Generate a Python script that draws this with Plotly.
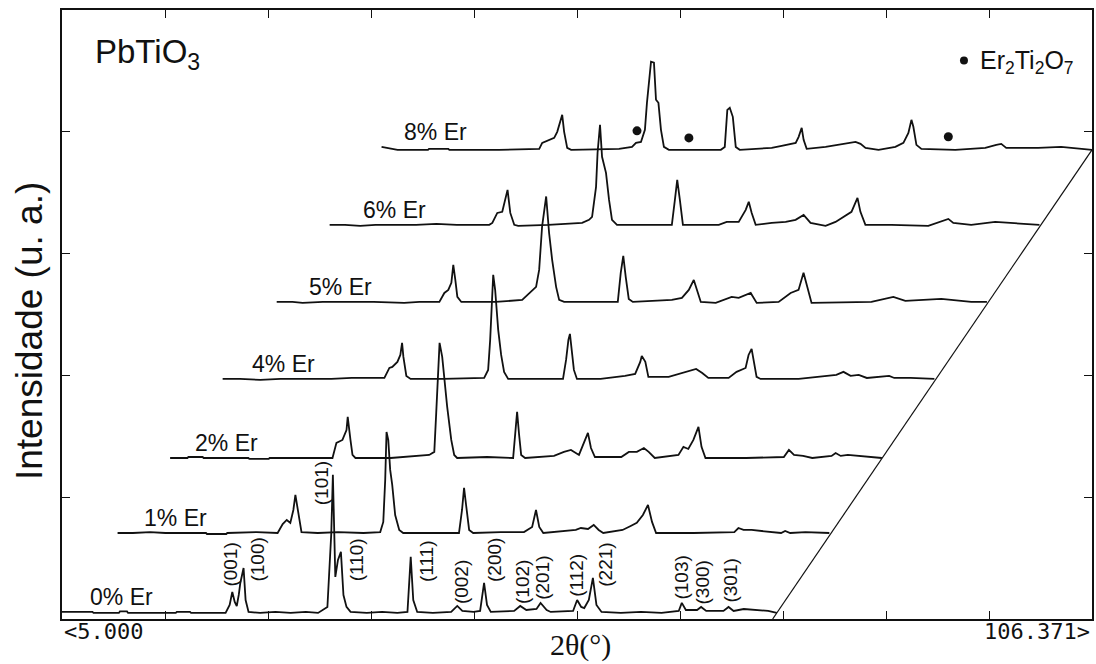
import plotly.graph_objects as go

# ---- diffraction data: 2theta (deg) and intensity (counts) per Er content ----
samples = ["0% Er", "1% Er", "2% Er", "4% Er", "5% Er", "6% Er", "8% Er"]

tt_0 = [5.0, 8.0, 8.1, 10.6, 10.7, 11.4, 11.5, 16.2, 16.3, 17.6, 17.7, 21.1, 21.5, 21.76, 22.0, 22.2,
        22.4, 22.55, 22.87, 23.07, 23.36, 24.5, 26.0, 27.5, 29.0, 30.2, 31.12, 31.5, 31.66, 31.78,
        31.9, 32.16, 32.45, 32.7, 33.0, 33.4, 35.0, 36.5, 38.0, 39.0, 39.32, 39.57, 39.96, 41.5,
        43.3, 43.9, 44.4, 45.5, 46.15, 46.54, 46.83, 47.2, 49.5, 50.1, 50.7, 51.7, 52.1, 52.7, 53.1,
        55.3, 55.7, 56.1, 56.4, 56.85, 57.25, 57.6, 58.1, 60.0, 62.0, 64.0, 65.7, 66.0, 66.4, 67.5,
        67.9, 68.4, 70.1, 70.6, 71.1, 72.1, 73.5, 74.5, 75.35]
int_0 = [58, 58, 50, 50, 62, 62, 50, 50, 58, 58, 50, 50, 115, 222, 140, 107,
         200, 296, 419, 156, 58, 50, 58, 50, 58, 50, 99, 700, 1184, 700,
         345, 485, 551, 197, 99, 58, 50, 58, 50, 58, 510, 156, 58, 50,
         58, 107, 66, 58, 66, 296, 115, 58, 66, 107, 74, 82, 132, 74, 58,
         66, 156, 99, 90, 156, 337, 115, 58, 50, 58, 50, 66, 132, 74, 74,
         99, 66, 66, 99, 66, 82, 74, 66, 50]

tt_1 = [5.3, 6.8, 8.5, 10.0, 14.0, 14.1, 16.0, 16.1, 19.0, 21.05, 21.55, 21.95, 22.3, 22.6, 22.8,
        23.1, 23.4, 25.0, 27.0, 29.5, 31.15, 31.45, 31.64, 31.77, 31.94, 32.13, 32.33, 32.62, 33.02,
        33.41, 36.0, 38.9, 39.2, 39.4, 39.6, 39.9, 40.3, 43.0, 45.3, 46.1, 46.48, 46.8, 47.2, 50.4,
        50.9, 51.6, 52.16, 52.65, 53.1, 55.0, 55.8, 56.4, 57.0, 57.5, 57.9, 58.3, 62.0, 66.0, 66.4,
        66.9, 67.7, 68.6, 70.6, 71.0, 71.5, 73.0, 75.35]
int_1 = [72, 72, 80, 72, 72, 64, 64, 72, 80, 72, 146, 179, 155, 261, 385,
         220, 80, 72, 80, 72, 80, 163, 508, 902, 837, 590, 467, 220, 97,
         72, 72, 72, 261, 442, 302, 97, 72, 80, 80, 122, 261, 122, 72, 97,
         113, 105, 138, 97, 72, 97, 130, 155, 220, 302, 163, 72, 72, 80, 113,
         97, 97, 89, 72, 89, 72, 80, 72]

tt_2 = [5.3, 7.0, 7.1, 8.5, 8.6, 13.0, 13.1, 15.0, 15.1, 21.28, 21.67, 22.26, 22.66, 22.78, 23.05,
        23.25, 23.54, 27.0, 30.8, 31.3, 31.49, 31.69, 31.82, 32.08, 32.57, 32.97, 33.26, 33.55, 36.5,
        39.06, 39.26, 39.45, 39.65, 39.85, 40.24, 43.08, 44.06, 44.75, 45.54, 46.03, 46.42, 46.72,
        47.11, 49.7, 50.45, 51.24, 51.93, 52.4, 53.0, 55.33, 55.82, 56.3, 56.8, 57.3, 57.6, 57.99,
        62.0, 65.7, 66.2, 66.7, 67.6, 68.5, 70.4, 70.8, 71.3, 72.0, 73.0, 75.35]
int_2 = [54, 54, 62, 62, 54, 54, 46, 46, 54, 54, 178, 202, 284, 391, 202,
         79, 54, 54, 79, 104, 424, 835, 999, 884, 473, 202, 79, 54, 62,
         54, 243, 432, 243, 79, 54, 71, 104, 120, 79, 186, 260, 136,
         62, 62, 104, 104, 136, 104, 54, 79, 145, 128, 202, 309, 145, 54,
         54, 62, 120, 79, 71, 54, 71, 95, 71, 79, 71, 54]

tt_4 = [5.3, 7.0, 9.0, 11.0, 16.0, 18.0, 21.22, 21.71, 22.0, 22.5, 22.79, 22.96, 23.09, 23.38, 23.8,
        27.0, 31.04, 31.43, 31.63, 31.83, 31.93, 32.12, 32.42, 32.71, 33.0, 33.4, 36.0, 38.8, 39.1,
        39.33, 39.48, 39.68, 39.87, 40.17, 42.5, 44.9, 45.9, 46.4, 46.55, 46.9, 47.2, 49.2, 50.2,
        51.4, 51.9, 52.5, 53.1, 55.1, 55.88, 56.77, 57.06, 57.36, 57.6, 57.85, 58.24, 62.0, 65.7,
        66.4, 67.1, 67.9, 68.7, 70.5, 70.9, 71.4, 73.0, 75.35]
int_4 = [69, 69, 61, 69, 69, 77, 77, 159, 168, 209, 266, 365, 250, 94, 69,
         69, 77, 143, 390, 760, 924, 801, 472, 266, 127, 69, 69, 69, 225,
         390, 439, 308, 143, 69, 69, 94, 110, 209, 258, 209, 86, 86, 110,
         135, 151, 118, 77, 77, 127, 159, 266, 316, 209, 86, 69, 69, 102,
         127, 94, 102, 77, 86, 94, 77, 77, 69]

tt_5 = [5.45, 7.0, 8.0, 10.0, 15.0, 18.0, 19.5, 21.46, 21.95, 22.34, 22.64, 22.83, 23.03, 23.23,
        23.62, 27.0, 29.61, 30.3, 30.98, 31.28, 31.57, 31.97, 32.26, 32.56, 32.95, 33.25, 33.74,
        36.0, 39.02, 39.31, 39.56, 39.8, 40.1, 40.5, 44.34, 45.33, 46.01, 46.5, 46.8, 47.19, 48.66,
        50.23, 50.92, 52.1, 52.69, 54.85, 56.03, 56.81, 57.3, 57.8, 58.09, 63.98, 66.14, 67.32,
        70.86, 73.8, 75.35]
int_5 = [67, 67, 59, 67, 67, 59, 67, 67, 141, 166, 224, 372, 248, 109,
         67, 67, 84, 141, 191, 330, 686, 933, 633, 413, 191, 84, 67,
         67, 67, 306, 445, 273, 92, 67, 84, 100, 166, 248, 166, 67, 59,
         109, 100, 141, 59, 67, 141, 166, 306, 141, 59, 67, 109, 76,
         92, 67, 67]

tt_6 = [5.49, 7.0, 8.5, 10.0, 14.0, 16.0, 18.0, 21.2, 21.5, 21.99, 22.48, 22.77, 23.0, 23.27, 23.66,
        24.05, 27.0, 30.34, 31.02, 31.32, 31.71, 31.86, 32.1, 32.3, 32.69, 32.99, 33.28, 33.77, 36.0,
        39.17, 39.47, 39.7, 39.96, 40.26, 42.51, 43.79, 44.57, 45.75, 46.44, 46.74, 47.03, 47.42,
        49.0, 50.37, 51.35, 52.14, 52.82, 54.3, 55.28, 56.06, 56.85, 57.44, 57.73, 58.22, 60.78,
        64.41, 66.38, 66.87, 68.63, 70.99, 75.35]
int_6 = [66, 66, 58, 66, 66, 74, 66, 66, 82, 164, 173, 271, 353, 164, 66,
         58, 66, 82, 107, 132, 378, 658, 888, 625, 493, 271, 107, 66, 66,
         66, 271, 436, 271, 66, 66, 66, 90, 90, 189, 255, 164, 66,
         82, 90, 107, 148, 82, 58, 90, 132, 173, 288, 173, 66, 66,
         58, 115, 82, 66, 90, 66]

tt_8 = [5.43, 7.0, 10.0, 10.1, 12.0, 12.1, 17.0, 20.95, 21.24, 21.93, 22.42, 22.72, 23.01, 23.21,
        23.4, 23.7, 24.09, 28.8, 30.08, 30.47, 30.96, 31.35, 31.55, 31.75, 31.95, 32.24, 32.44,
        32.68, 32.93, 33.22, 33.71, 38.82, 39.21, 39.46, 39.7, 40.0, 40.29, 40.68, 43.83, 44.81,
        46.19, 46.48, 46.78, 46.97, 47.27, 49.13, 50.41, 52.08, 52.57, 53.06, 54.34, 56.0, 56.79,
        57.28, 57.58, 57.77, 58.07, 58.56, 61.9, 64.85, 65.93, 66.42, 66.91, 70.06, 72.31, 75.35]
int_8 = [72, 48, 48, 56, 56, 48, 48, 56, 105, 130, 146, 196, 278, 335,
         196, 64, 48, 56, 72, 105, 113, 212, 434, 598, 771, 763, 459,
         434, 212, 72, 48, 48, 72, 376, 393, 319, 72, 48, 64, 81,
         105, 155, 229, 130, 56, 72, 89, 113, 97, 64, 48, 72, 105,
         187, 294, 237, 89, 56, 48, 64, 89, 97, 64, 64, 72, 48]

# Er2Ti2O7 reflections marked on the 8% pattern
er_tt = [30.57, 35.68, 61.21]
er_int = [204, 146, 155]

# Miller indices of the PbTiO3 reflections (0% pattern)
hkl_labels = ["(001)", "(100)", "(101)", "(110)", "(111)", "(002)", "(200)",
              "(102)", "(201)", "(112)", "(221)", "(103)", "(300)", "(301)"]
hkl_x = [21.6, 24.25, 30.53, 34.07, 40.94, 44.38, 47.62, 50.37, 52.33, 55.67, 58.52, 65.98, 68.04, 70.7]
hkl_y = [444, 485, 1118, 485, 477, 304, 485, 304, 337, 362, 444, 337, 296, 312]

# ---- waterfall layout ----
X_STEP = 5.17      # horizontal shift between successive patterns (deg)
Y_STEP = 634       # vertical shift between successive patterns (counts)
X_MIN, X_MAX = 5.0, 106.371
Y_MAX = 5000
label_x = [7.55, 12.86, 17.87, 23.46, 29.16, 34.47, 38.49]

patterns = [(tt_0, int_0), (tt_1, int_1), (tt_2, int_2), (tt_4, int_4),
            (tt_5, int_5), (tt_6, int_6), (tt_8, int_8)]

fig = go.Figure()
ink = "#111111"

ends = []
for k, (tt, ii) in enumerate(patterns):
    xs = [t + k * X_STEP for t in tt]
    ys = [v + k * Y_STEP for v in ii]
    ends.append((xs[-1], ys[-1]))
    fig.add_trace(go.Scatter(x=xs, y=ys, mode="lines",
                             line=dict(color=ink, width=1.8), hoverinfo="skip"))
    fig.add_annotation(x=label_x[k], y=ii[0] + k * Y_STEP, text=samples[k],
                       xanchor="left", yanchor="bottom", showarrow=False,
                       font=dict(family="Liberation Sans, Arial", size=23, color=ink))

# diagonal through the end of each pattern, carried down to the axis
x0e, y0e = ends[0]
x6e, y6e = ends[-1]
slope = (x6e - x0e) / (y6e - y0e)
fig.add_trace(go.Scatter(x=[x0e - y0e * slope, x6e], y=[0, y6e], mode="lines",
                         line=dict(color=ink, width=1.2), hoverinfo="skip"))

# Er2Ti2O7 markers on the top pattern
fig.add_trace(go.Scatter(x=[t + 6 * X_STEP for t in er_tt], y=[v + 6 * Y_STEP for v in er_int],
                         mode="markers", marker=dict(color=ink, size=9), hoverinfo="skip"))
# legend marker
fig.add_trace(go.Scatter(x=[93.77], y=[4585], mode="markers",
                         marker=dict(color=ink, size=8), hoverinfo="skip"))

for txt, hx, hy in zip(hkl_labels, hkl_x, hkl_y):
    fig.add_annotation(x=hx, y=hy, text=txt, textangle=-90, showarrow=False,
                       font=dict(family="Liberation Sans, Arial", size=19, color=ink))

fig.add_annotation(xref="paper", yref="paper", x=0.030, y=0.927, xanchor="left", yanchor="middle",
                   text="PbTiO<sub>3</sub>", showarrow=False,
                   font=dict(family="Liberation Sans, Arial", size=33, color=ink))
fig.add_annotation(xref="paper", yref="paper", x=0.8895, y=0.915, xanchor="left", yanchor="middle",
                   text="Er<sub>2</sub>Ti<sub>2</sub>O<sub>7</sub>", showarrow=False,
                   font=dict(family="Liberation Sans, Arial", size=25, color=ink))
fig.add_annotation(xref="paper", yref="paper", x=0.0, y=-0.021, xanchor="left", yanchor="middle",
                   text="&lt;5.000", showarrow=False,
                   font=dict(family="DejaVu Sans Mono", size=22, color=ink))
fig.add_annotation(xref="paper", yref="paper", x=1.0, y=-0.021, xanchor="right", yanchor="middle",
                   text="106.371&gt;", showarrow=False,
                   font=dict(family="DejaVu Sans Mono", size=22, color=ink))
fig.add_annotation(xref="paper", yref="paper", x=0.503, y=-0.042, xanchor="center", yanchor="middle",
                   text="2θ(°)", showarrow=False,
                   font=dict(family="Liberation Serif, Times New Roman", size=30, color=ink))
fig.add_annotation(xref="paper", yref="paper", x=-0.031, y=0.473, xanchor="center", yanchor="middle",
                   text="Intensidade (u. a.)", textangle=-90, showarrow=False,
                   font=dict(family="Liberation Sans, Arial", size=37, color=ink))

x_ticks = [X_MIN + k * (X_MAX - X_MIN) / 10 for k in range(1, 10)]
y_ticks = [1000, 2000, 3000, 4000]

axis_style = dict(showline=True, linecolor=ink, linewidth=1.5, mirror="ticks",
                  ticks="inside", ticklen=8, tickwidth=1.3, tickcolor=ink,
                  showticklabels=False, showgrid=False, zeroline=False, fixedrange=True)

fig.update_layout(
    width=1096, height=664,
    margin=dict(l=62, r=2, t=10, b=45),
    paper_bgcolor="white", plot_bgcolor="white",
    showlegend=False,
    xaxis=dict(range=[X_MIN, X_MAX], tickvals=x_ticks, **axis_style),
    yaxis=dict(range=[0, Y_MAX], tickvals=y_ticks, **axis_style),
)

fig.write_html("out.html")
